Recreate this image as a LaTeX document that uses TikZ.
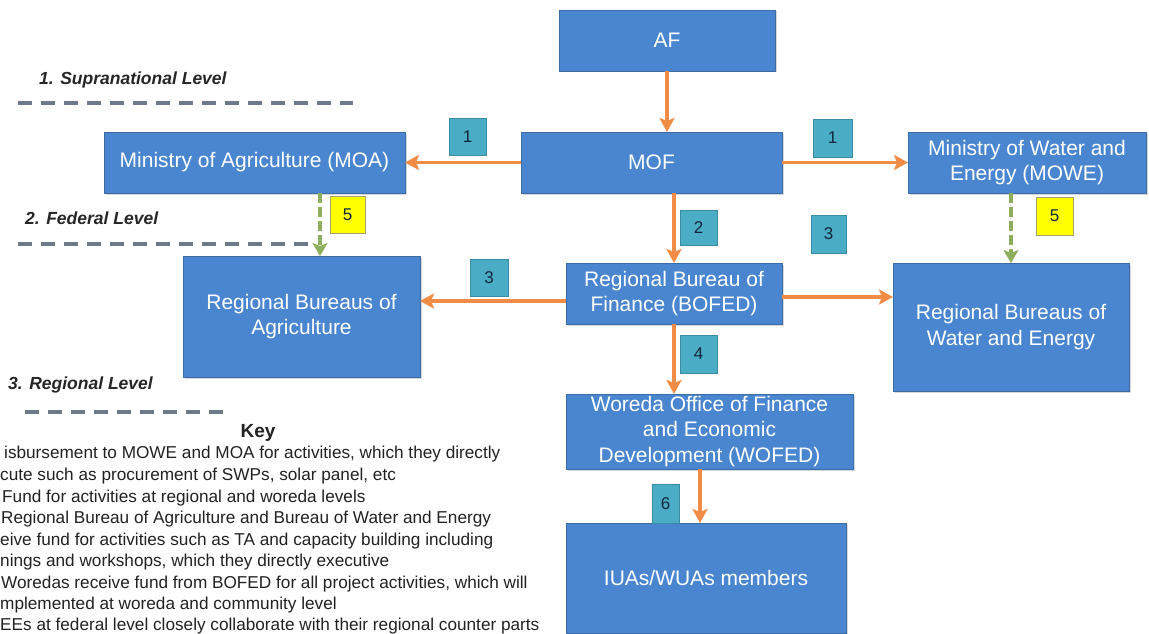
\documentclass[tikz,border=0pt]{standalone}
\usepackage{fontspec}
\setmainfont{Liberation Sans}
\usetikzlibrary{arrows.meta,shadows}
\definecolor{boxblue}{HTML}{4A86D0}
\definecolor{boxedge}{HTML}{3C6CA6}
\definecolor{tealfill}{HTML}{4BACC6}
\definecolor{tealedge}{HTML}{3A8CA3}
\definecolor{yelfill}{HTML}{FFFF00}
\definecolor{yeledge}{HTML}{A0A070}
\definecolor{orng}{HTML}{F08C46}
\definecolor{grn}{HTML}{8EAE5E}
\definecolor{lvl}{HTML}{6D7A8A}
\definecolor{numtxt}{HTML}{13263D}
\definecolor{keytxt}{HTML}{222222}
\begin{document}
\begin{tikzpicture}[x=1pt,y=-1pt,
  box/.style={draw=boxedge, line width=0.8pt, fill=boxblue, text=white, align=center,
    inner sep=0pt, outer sep=0pt, font=\fontsize{21}{25.5}\selectfont,
    drop shadow={shadow xshift=1.5pt, shadow yshift=-1.5pt, opacity=0.3}},
  num/.style={draw=tealedge, line width=0.6pt, fill=tealfill, text=numtxt, inner sep=0pt,
    font=\fontsize{17}{20}\selectfont},
  numy/.style={num, draw=yeledge, fill=yelfill},
  flow/.style={draw=orng, line width=3.5pt, -{Stealth[length=14pt,width=15pt,inset=3pt]}},
  link/.style={draw=grn, line width=4pt, dash pattern=on 10pt off 4pt,
    -{Stealth[length=13pt,width=15pt,inset=3pt]}},
  lvlline/.style={draw=lvl, line width=4pt, dash pattern=on 14pt off 9pt},
  lvltext/.style={anchor=west, inner sep=0pt, font=\fontsize{17.5}{20}\selectfont\bfseries\itshape, text=black!85},
  keyline/.style={anchor=base west, inner sep=0pt, font=\fontsize{17.2}{20}\selectfont, text=keytxt},
]
\fill[white] (0,0) rectangle (1149,634);
\useasboundingbox (0,0) rectangle (1149,634);

% main boxes
\node[box, minimum width=216pt, minimum height=61pt] (af) at (667,40.5) {AF};
\node[box, minimum width=261pt, minimum height=61pt] (mof) at (651.5,162.5) {MOF};
\node[box, minimum width=301pt, minimum height=61pt] (moa) at (254.5,162.5) {Ministry of Agriculture (MOA)};
\node[box, minimum width=238pt, minimum height=61pt] (mowe) at (1027,162.5) {Ministry of Water and\\Energy (MOWE)};
\node[box, minimum width=237pt, minimum height=121pt] (regagri) at (301.5,316.5) {Regional Bureaus of\\Agriculture};
\node[box, minimum width=216pt, minimum height=61pt] (bofed) at (674,293.5) {Regional Bureau of\\Finance (BOFED)};
\node[box, minimum width=236pt, minimum height=128pt] (regwater) at (1011,327) {Regional Bureaus of\\Water and Energy};
\node[box, minimum width=287pt, minimum height=75pt] (wofed) at (709.5,431.5) {Woreda Office of Finance\\and Economic\\Development (WOFED)};
\node[box, minimum width=280pt, minimum height=110pt] (iuas) at (706,578) {IUAs/WUAs members};

% number tags
\node[num, minimum width=37pt, minimum height=37pt] (n1l) at (467.5,136.5) {1};
\node[num, minimum width=39pt, minimum height=38pt] (n1r) at (832.5,138) {1};
\node[num, minimum width=37pt, minimum height=35pt] (n2) at (698.5,227.5) {2};
\node[num, minimum width=35pt, minimum height=38pt] (n3r) at (828.5,234) {3};
\node[num, minimum width=38pt, minimum height=37pt] (n3l) at (489,277.5) {3};
\node[num, minimum width=37pt, minimum height=38pt] (n4) at (698.5,354) {4};
\node[numy, minimum width=35pt, minimum height=37pt] (n5l) at (347.5,214.5) {5};
\node[numy, minimum width=37pt, minimum height=38pt] (n5r) at (1054.5,216) {5};
\node[num, minimum width=27pt, minimum height=39pt] (n6) at (665.5,503.5) {6};

% level labels and lines
\node[lvltext] (lv1) at (39,80) {1. Supranational Level};
\node[lvltext] (lv2) at (25,218) {2. Federal Level};
\node[lvltext] (lv3) at (8,385) {3. Regional Level};
\coordinate (l1a) at (18,103); \coordinate (l1b) at (353,103);
\coordinate (l2a) at (18,244); \coordinate (l2b) at (313,244);
\coordinate (l3a) at (25,412); \coordinate (l3b) at (228,412);
\draw[lvlline] (l1a) -- (l1b);
\draw[lvlline] (l2a) -- (l2b);
\draw[lvlline] (l3a) -- (l3b);

% connectors
\coordinate (b1) at ([yshift=-7.5pt]bofed.west);
\coordinate (b2) at ([yshift=-3.5pt]bofed.east);
\coordinate (w1) at ([xshift=-9.5pt]wofed.south);
\coordinate (m1) at ([xshift=18.5pt]regagri.north);
\draw[flow] (af.south) -- (af.south |- mof.north);
\draw[flow] (mof.west) -- (moa.east);
\draw[flow] (mof.east) -- (mowe.west);
\draw[flow] (bofed.north |- mof.south) -- (bofed.north);
\draw[flow] (b1) -- (b1 -| regagri.east);
\draw[flow] (b2) -- (b2 -| regwater.west);
\draw[flow] (bofed.south) -- (bofed.south |- wofed.north);
\draw[flow] (w1) -- (w1 |- iuas.north);
\draw[link] (m1 |- moa.south) -- (m1);
\draw[link] (regwater.north |- mowe.south) -- (regwater.north);

% key
\node[font=\fontsize{19}{22}\selectfont\bfseries, text=keytxt, inner sep=0pt] (keyttl) at (258,433) {Key};
\node[keyline] (k1) at (4,458) {isbursement to MOWE and MOA for activities, which they directly};
\node[keyline] (k2) at (0,480) {cute such as procurement of SWPs, solar panel, etc};
\node[keyline] (k3) at (2,502) {Fund for activities at regional and woreda levels};
\node[keyline] (k4) at (1,523) {Regional Bureau of Agriculture and Bureau of Water and Energy};
\node[keyline] (k5) at (0,545) {eive fund for activities such as TA and capacity building including};
\node[keyline] (k6) at (0,566) {nings and workshops, which they directly executive};
\node[keyline] (k7) at (1,588) {Woredas receive fund from BOFED for all project activities, which will};
\node[keyline] (k8) at (0,609) {mplemented at woreda and community level};
\node[keyline] (k9) at (0,630) {EEs at federal level closely collaborate with their regional counter parts};
\end{tikzpicture}
\end{document}
